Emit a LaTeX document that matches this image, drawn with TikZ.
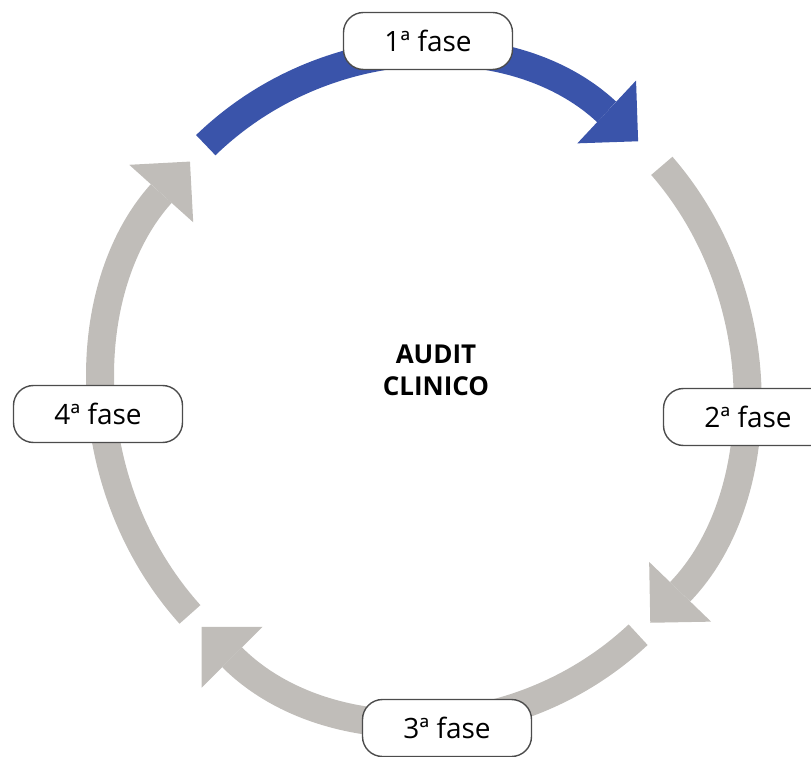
\documentclass[tikz,border=0pt]{standalone}
\usepackage{fontspec}
\setmainfont{Open Sans}
\usetikzlibrary{arrows.meta}
\definecolor{phaseblue}{RGB}{58,84,170}
\definecolor{phasegray}{RGB}{192,189,185}
\tikzset{cyclearrow/.style = {line width=28pt, -{Triangle[length=43pt,width=86pt,line width=0pt]}}}

\begin{document}
\begin{tikzpicture}[x=1pt,y=1pt,
    phase/.style={draw=black!70, line width=1.4pt, fill=white,
        rounded corners=20pt, minimum width=169pt, minimum height=57pt,
        inner sep=0pt, font={\fontsize{28}{34}\selectfont}},
    title/.style={font={\fontsize{26}{32}\selectfont\bfseries}, align=center},
    ]
    \useasboundingbox (0,0) rectangle (811,756);
    \clip (0,0) rectangle (811,756);

    % centre of the cycle
    \coordinate (c) at (424,368);

    % arcs between the phases
    \draw[cyclearrow, phaseblue] (c) ++(133:320 and 332) arc (133:48:320 and 332);
    \draw[cyclearrow, phasegray] (c) ++(42:320 and 332) arc (42:-45:320 and 332);
    \draw[cyclearrow, phasegray] (c) ++(-48:320 and 332) arc (-48:-134:320 and 332);
    \draw[cyclearrow, phasegray] (c) ++(-137:320 and 332) arc (-137:-223:320 and 332);

    % phases
    \node[phase] (f1) at (428,715) {1ª fase};
    \node[phase] (f2) at (748,339) {2ª fase};
    \node[phase] (f3) at (447,28) {3ª fase};
    \node[phase] (f4) at (98,342) {4ª fase};

    \node[title] (audit) at (436,386) {AUDIT\\CLINICO};
\end{tikzpicture}
\end{document}
